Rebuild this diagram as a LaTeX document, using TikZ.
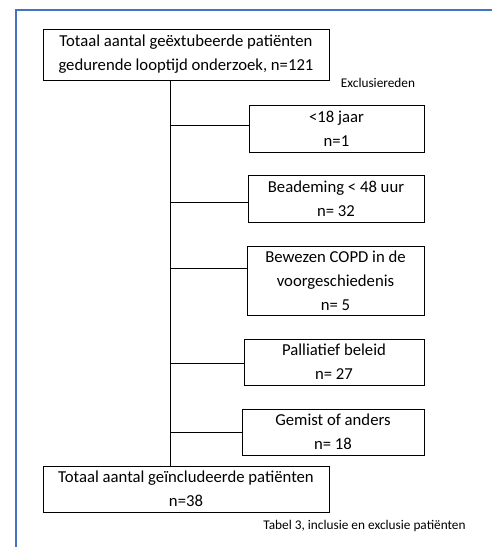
\documentclass[tikz,border=0pt]{standalone}
\usepackage{fontspec}
\setmainfont{Carlito}
\usetikzlibrary{positioning}
\definecolor{frameblue}{RGB}{68,114,196}
\tikzset{font=\fontsize{16.7}{24}\selectfont}

\begin{document}
\begin{tikzpicture}[x=1pt,y=-1pt,every node/.style={inner sep=0pt,align=center},
    box/.style={draw,line width=0.8pt,minimum height=47pt},
    small/.style={font=\fontsize{13.3}{16}\selectfont}]
      \useasboundingbox (0,0) rectangle (492,547);
      \draw[frameblue,line width=2pt] (16,547) -- (16,10) -- (492,10);

      \node[box,minimum width=286pt,minimum height=51pt] (Tot) at (186,54.5) {Totaal aantal geëxtubeerde patiënten\\gedurende looptijd onderzoek, n=121};
      \node[small] (ExLab) at (378,83) {Exclusiereden};

      \node[box,minimum width=175pt] (E1) at (336.5,128.5) {<18 jaar\\n=1};
      \node[box,minimum width=176pt] (E2) at (336,198.5) {Beademing < 48 uur\\n= 32};
      \node[box,minimum width=177pt,minimum height=69pt] (E3) at (335.5,280.5) {Bewezen COPD in de\\voorgeschiedenis\\n= 5};
      \node[box,minimum width=180pt,minimum height=46pt] (E4) at (334,362) {Palliatief beleid\\n= 27};
      \node[box,minimum width=182pt,minimum height=46pt] (E5) at (333,432) {Gemist of anders\\n= 18};

      \node[box,minimum width=286pt,minimum height=46pt] (Incl) at (186,489) {Totaal aantal geïncludeerde patiënten\\n=38};
      \node[small] (Cap) at (364.5,526) {Tabel 3, inclusie en exclusie patiënten};

      \coordinate (J1) at (170,125);
      \coordinate (J2) at (170,202);
      \coordinate (J3) at (170,268);
      \coordinate (J4) at (170,363);
      \coordinate (J5) at (170,432);

      \draw[line width=0.8pt] (Tot.south -| J1) -- (Incl.north -| J1);
      \draw[line width=0.8pt] (J1) -- (J1 -| E1.west);
      \draw[line width=0.8pt] (J2) -- (J2 -| E2.west);
      \draw[line width=0.8pt] (J3) -- (J3 -| E3.west);
      \draw[line width=0.8pt] (J4) -- (J4 -| E4.west);
      \draw[line width=0.8pt] (J5) -- (J5 -| E5.west);
  \end{tikzpicture}
\end{document}
